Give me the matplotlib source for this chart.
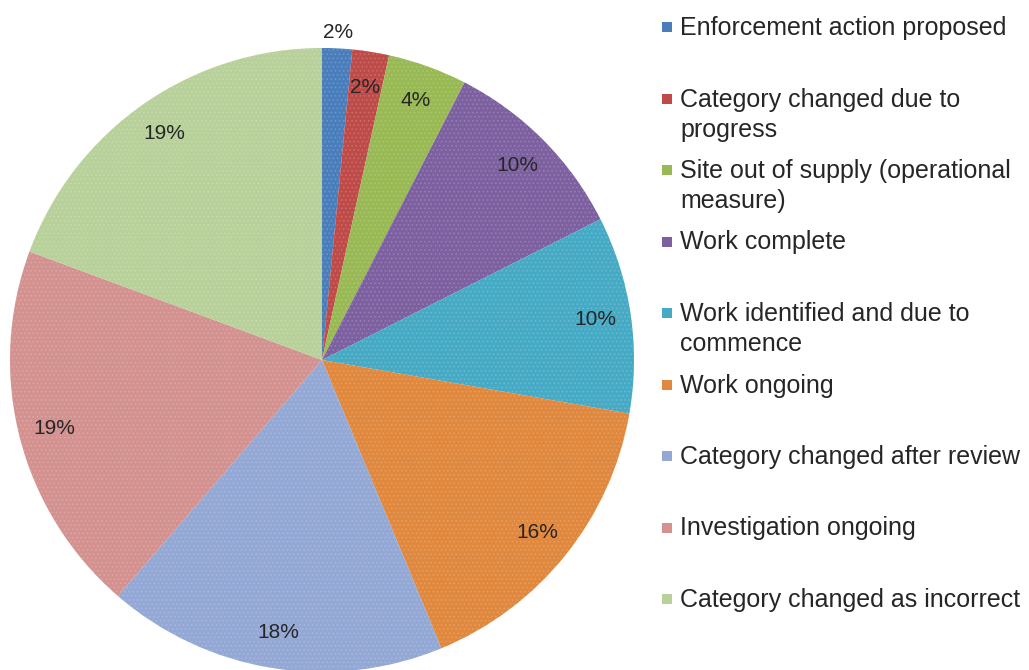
import numpy as np
import matplotlib
matplotlib.use("Agg")
import matplotlib.pyplot as plt

categories = [
    "Enforcement action proposed",
    "Category changed due to\nprogress",
    "Site out of supply (operational\nmeasure)",
    "Work complete",
    "Work identified and due to\ncommence",
    "Work ongoing",
    "Category changed after review",
    "Investigation ongoing",
    "Category changed as incorrect",
]
values = [1.55, 1.9, 4.1, 10.0, 10.2, 16.0, 17.6, 19.3, 19.35]
colors = ["#4A7EBB", "#BE4B48", "#98B954", "#7D60A0", "#46AAC5",
          "#E0883D", "#93A8D4", "#D39290", "#B8D19A"]

plt.rcParams['font.family'] = ['Liberation Sans', 'DejaVu Sans']
plt.rcParams['hatch.linewidth'] = 0.6

W, H = 1029, 670
fig = plt.figure(figsize=(W / 100, H / 100), dpi=100)
ax = fig.add_axes([0, 0, 1, 1])

cx, cy, R = 322, H - 360, 312

def lighten(c, f=0.18):
    rgb = np.array(matplotlib.colors.to_rgb(c))
    return tuple(rgb + (1 - rgb) * f)

wedges, texts, autotexts = ax.pie(
    values, colors=colors, startangle=90, counterclock=False,
    center=(cx, cy), radius=R, autopct='%.0f%%', pctdistance=0.885,
    wedgeprops=dict(linewidth=0), textprops=dict(fontsize=15, color='#262626'),
    frame=True)
ax.set_xlim(0, W)
ax.set_ylim(0, H)
ax.set_aspect('equal')
ax.axis('off')

for w, c in zip(wedges, colors):
    w.set_hatch('....')
    w.set_edgecolor(lighten(c, 0.2))
    w.set_linewidth(0)

# first label outside
w0 = wedges[0]
mid = np.deg2rad((w0.theta1 + w0.theta2) / 2)
autotexts[0].set_position((cx + 1.05 * R * np.cos(mid), cy + 1.05 * R * np.sin(mid)))

# legend
x_box, x_txt = 667, 680
y0, pitch = 26, 71.5
for i, (lab, c) in enumerate(zip(categories, colors)):
    yc = H - (y0 + i * pitch)
    ax.add_patch(plt.Rectangle((x_box - 5, yc - 6), 10, 10, facecolor=c,
                               edgecolor='none', clip_on=False))
    ax.text(x_txt, yc + 10, lab, fontsize=18, color='#262626',
            va='top', ha='left', linespacing=1.32)

fig.savefig('out.png', dpi=100)
